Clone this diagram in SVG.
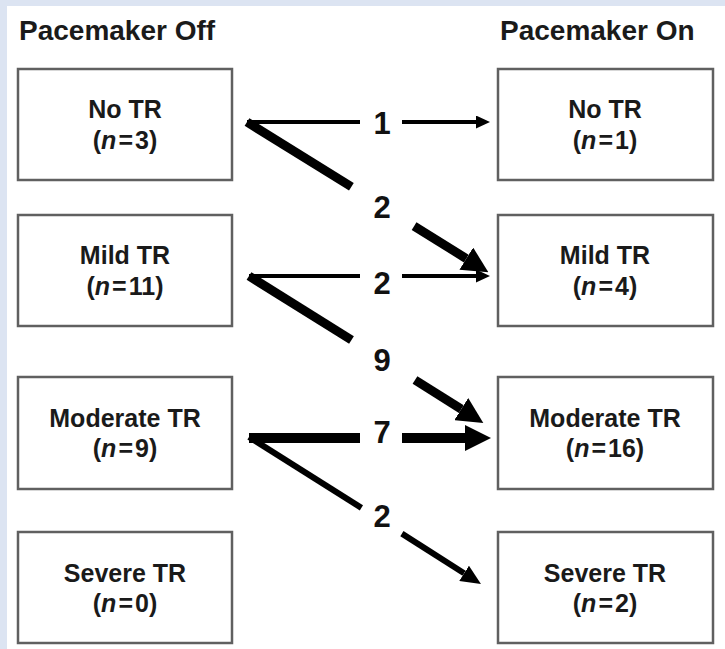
<svg xmlns="http://www.w3.org/2000/svg" width="725" height="649" viewBox="0 0 725 649">
<defs>
<style>
.bg{fill:#dce4f2}
.panel{fill:#ffffff}
.box{fill:#ffffff;stroke:#606060;stroke-width:2.5}
.title{font-family:"Liberation Sans",Arial,sans-serif;font-weight:bold;font-size:28px;fill:#1a1a1a}
.lbl{font-family:"Liberation Sans",Arial,sans-serif;font-weight:bold;font-size:25px;fill:#1a1a1a;text-anchor:middle}
.num{font-family:"Liberation Sans",Arial,sans-serif;font-weight:bold;font-size:31px;fill:#111;text-anchor:middle}
.ln{stroke:#000;fill:none;stroke-linecap:butt}
.w4{stroke-width:4}
.w6{stroke-width:6}
.w9{stroke-width:9}
.w10{stroke-width:10}
</style>
<marker id="headS" markerUnits="userSpaceOnUse" viewBox="0 0 14 13" markerWidth="14" markerHeight="13" refX="0" refY="6.5" orient="auto">
<path d="M0,0 L14,6.5 L0,13 z" fill="#000"/>
</marker>
<marker id="headM" markerUnits="userSpaceOnUse" viewBox="0 0 20 18" markerWidth="20" markerHeight="18" refX="0" refY="9" orient="auto">
<path d="M0,0 L20,9 L0,18 z" fill="#000"/>
</marker>
<marker id="headL" markerUnits="userSpaceOnUse" viewBox="0 0 26 26" markerWidth="26" markerHeight="26" refX="0" refY="13" orient="auto">
<path d="M0,0 L26,13 L0,26 z" fill="#000"/>
</marker>
</defs>
<rect class="bg" x="0" y="0" width="725" height="649"/>
<rect class="panel" x="7" y="6" width="718" height="643"/>

<text class="title" x="19" y="40">Pacemaker Off</text>
<text class="title" x="500" y="40">Pacemaker On</text>

<g id="off-none">
<rect class="box" x="18" y="69" width="214" height="111"/>
<text class="lbl" x="125" y="118">No TR</text>
<text class="lbl" x="125" y="149">(<tspan font-style="italic">n</tspan><tspan dx="2">=</tspan><tspan dx="2">3</tspan>)</text>
</g>
<g id="off-mild">
<rect class="box" x="18" y="215" width="214" height="111"/>
<text class="lbl" x="125" y="264">Mild TR</text>
<text class="lbl" x="125" y="295">(<tspan font-style="italic">n</tspan><tspan dx="2">=</tspan><tspan dx="2">11</tspan>)</text>
</g>
<g id="off-moderate">
<rect class="box" x="18" y="377" width="214" height="112"/>
<text class="lbl" x="125" y="427">Moderate TR</text>
<text class="lbl" x="125" y="457">(<tspan font-style="italic">n</tspan><tspan dx="2">=</tspan><tspan dx="2">9</tspan>)</text>
</g>
<g id="off-severe">
<rect class="box" x="18" y="532" width="214" height="111"/>
<text class="lbl" x="125" y="582">Severe TR</text>
<text class="lbl" x="125" y="612">(<tspan font-style="italic">n</tspan><tspan dx="2">=</tspan><tspan dx="2">0</tspan>)</text>
</g>

<g id="on-none">
<rect class="box" x="498" y="69" width="215" height="111"/>
<text class="lbl" x="605" y="118">No TR</text>
<text class="lbl" x="605" y="149">(<tspan font-style="italic">n</tspan><tspan dx="2">=</tspan><tspan dx="2">1</tspan>)</text>
</g>
<g id="on-mild">
<rect class="box" x="498" y="215" width="215" height="111"/>
<text class="lbl" x="605" y="264">Mild TR</text>
<text class="lbl" x="605" y="295">(<tspan font-style="italic">n</tspan><tspan dx="2">=</tspan><tspan dx="2">4</tspan>)</text>
</g>
<g id="on-moderate">
<rect class="box" x="498" y="377" width="215" height="112"/>
<text class="lbl" x="605" y="427">Moderate TR</text>
<text class="lbl" x="605" y="457">(<tspan font-style="italic">n</tspan><tspan dx="2">=</tspan><tspan dx="2">16</tspan>)</text>
</g>
<g id="on-severe">
<rect class="box" x="498" y="532" width="215" height="111"/>
<text class="lbl" x="605" y="582">Severe TR</text>
<text class="lbl" x="605" y="612">(<tspan font-style="italic">n</tspan><tspan dx="2">=</tspan><tspan dx="2">2</tspan>)</text>
</g>

<g id="connectors">
<!-- No TR -> No TR : 1 -->
<line class="ln w4" x1="247" y1="122" x2="360" y2="122"/>
<line class="ln w4" x1="402" y1="122" x2="476" y2="122" marker-end="url(#headS)"/>
<text class="num" x="382" y="134">1</text>
<!-- No TR -> Mild TR : 2 -->
<line class="ln w9" x1="247" y1="122" x2="351.4" y2="186.8"/>
<line class="ln w9" x1="414.1" y1="226.1" x2="466.3" y2="258.6" marker-end="url(#headL)"/>
<text class="num" x="382" y="218">2</text>

<!-- Mild -> Mild : 2 -->
<line class="ln w4" x1="249" y1="276" x2="360" y2="276"/>
<line class="ln w4" x1="402" y1="276" x2="476" y2="276" marker-end="url(#headS)"/>
<text class="num" x="382" y="294">2</text>
<!-- Mild -> Moderate : 9 -->
<line class="ln w9" x1="249" y1="276" x2="351.5" y2="340"/>
<line class="ln w9" x1="415" y1="380" x2="461.3" y2="409.1" marker-end="url(#headL)"/>
<text class="num" x="382" y="371">9</text>

<!-- Moderate -> Moderate : 7 -->
<line class="ln w10" x1="249" y1="438" x2="360" y2="438"/>
<line class="ln w10" x1="402" y1="438" x2="465" y2="438" marker-end="url(#headL)"/>
<text class="num" x="382" y="443">7</text>
<!-- Moderate -> Severe : 2 -->
<line class="ln w6" x1="249" y1="437" x2="361.4" y2="507.9"/>
<line class="ln w6" x1="401.9" y1="533.6" x2="464.1" y2="573.3" marker-end="url(#headM)"/>
<text class="num" x="382" y="527">2</text>
</g>
</svg>
